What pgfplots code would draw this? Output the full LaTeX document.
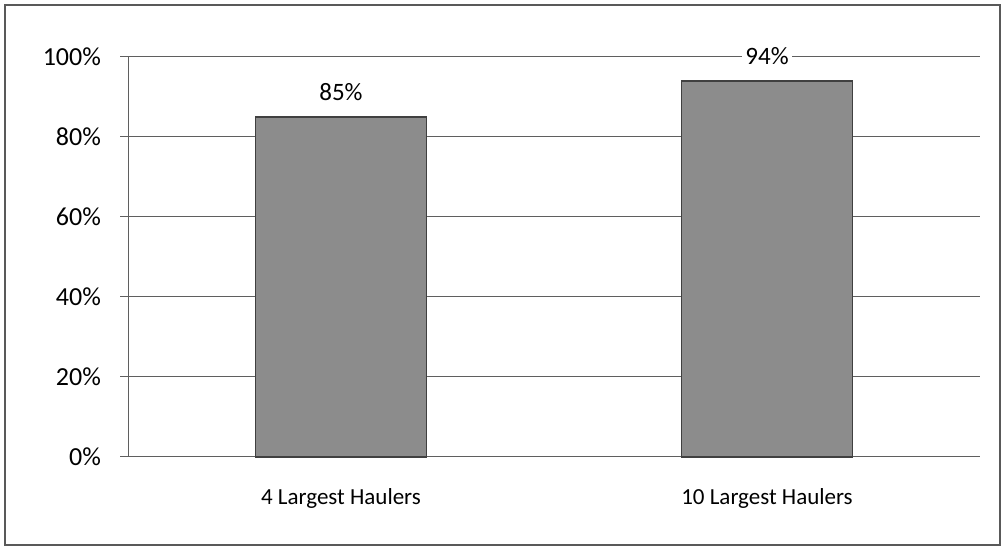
\documentclass[border=0pt]{standalone}
\usepackage{fontspec}
\setmainfont{Carlito}
\usepackage{pgfplots}
\pgfplotsset{compat=1.18}
\definecolor{barfill}{RGB}{140,140,140}
\definecolor{gridc}{RGB}{95,95,95}
\begin{document}
\begin{tikzpicture}[x=1pt,y=1pt]
\useasboundingbox (0,0) rectangle (502.5,275);
\draw[black!65, line width=0.9pt] (2.5,2.5) rectangle (500,272.5);
\begin{axis}[
  at={(64pt,46.5pt)}, anchor=south west,
  scale only axis, width=426pt, height=200pt,
  xmin=0, xmax=2, ymin=0, ymax=100,
  ybar, bar width=0.4,
  axis x line*=bottom, axis y line*=left,
  axis line style={gridc, line width=0.5pt},
  xtick={0.5,1.5},
  xticklabels={4 Largest Haulers, 10 Largest Haulers},
  major x tick style={draw=none},
  extra x ticks={0,1,2},
  extra x tick labels={},
  extra x tick style={grid=none, tick align=outside, major tick length=4pt, tick style={gridc, line width=0.5pt, draw=gridc}},
  ytick={0,20,40,60,80,100},
  yticklabel={\pgfmathprintnumber{\tick}\%},
  ytick align=outside, major tick length=4pt,
  tick style={gridc, line width=0.5pt},
  ymajorgrids, grid style={gridc, line width=0.5pt},
  /pgf/number format/assume math mode=true,
  yticklabel style={font=\fontsize{13}{15}\selectfont, xshift=-6pt},
  xticklabel style={font=\fontsize{11.5}{13}\selectfont, yshift=-8pt},
  nodes near coords={\pgfmathprintnumber{\pgfplotspointmeta}\%},
  nodes near coords style={font=\fontsize{12.5}{14}\selectfont, anchor=center, yshift=12.5pt, fill=white, inner sep=1.5pt, /pgf/number format/assume math mode=true},
  clip=false,
]
\addplot[fill=barfill, draw=black!75, line width=0.6pt] coordinates {(0.5,85) (1.5,94)};
\end{axis}
\end{tikzpicture}
\end{document}
